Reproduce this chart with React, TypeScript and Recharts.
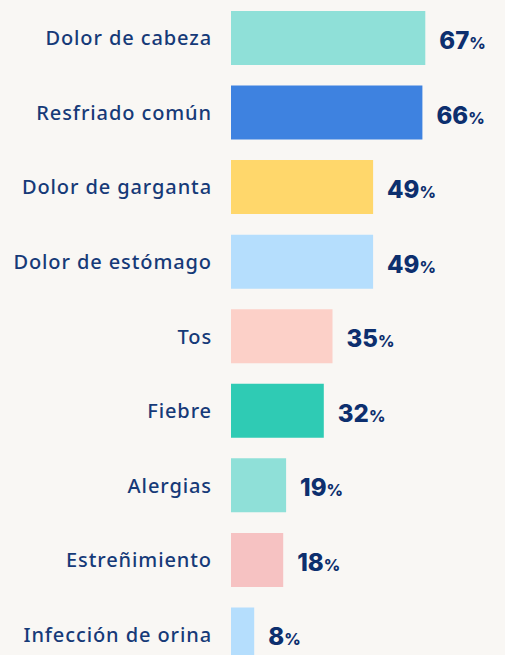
import React from "react";
import { BarChart, Bar, XAxis, YAxis, Cell, LabelList } from "recharts";

const categories = [
  "Dolor de cabeza",
  "Resfriado común",
  "Dolor de garganta",
  "Dolor de estómago",
  "Tos",
  "Fiebre",
  "Alergias",
  "Estreñimiento",
  "Infección de orina",
];

const values = [67, 66, 49, 49, 35, 32, 19, 18, 8];

const barColors = [
  "#8fe0d8",
  "#3e82e0",
  "#ffd76b",
  "#b5defd",
  "#fcd0c8",
  "#2fcbb4",
  "#8fe0d8",
  "#f6c2c2",
  "#b5defd",
];

const data = categories.map((name, i) => ({ name, value: values[i] }));

const NAVY = "#163a78";

const CategoryTick = ({ x, y, payload }: any) => (
  <text
    x={x}
    y={y}
    dy={7}
    textAnchor="end"
    fill={NAVY}
    fontFamily="'Noto Sans', sans-serif"
    fontSize={20}
    fontWeight={500}
    letterSpacing={0.9}
  >
    {payload.value}
  </text>
);

// valor en negrita + "%" más pequeño
const ValueLabel = ({ x, y, width, height, value }: any) => (
  <text
    x={x + width + 14}
    y={y + height / 2 + 11}
    fill="#0d2f6e"
    fontFamily="Inter, sans-serif"
    fontWeight={800}
  >
    <tspan fontSize={24}>{value}</tspan>
    <tspan fontSize={16}>%</tspan>
  </text>
);

export default function App() {
  return (
    <div
      style={{
        position: "fixed",
        top: 0,
        left: 0,
        width: 505,
        height: 655,
        overflow: "hidden",
        background: "#f9f7f4",
      }}
    >
      <BarChart
        layout="vertical"
        width={521}
        height={672}
        data={data}
        margin={{ top: 1, right: 0, bottom: 0, left: 0 }}
      >
        <XAxis type="number" domain={[0, 100]} hide />
        <YAxis
          type="category"
          dataKey="name"
          width={231}
          axisLine={false}
          tickLine={false}
          tickMargin={13}
          tick={<CategoryTick />}
        />
        <Bar dataKey="value" barSize={54} isAnimationActive={false}>
          {data.map((d, i) => (
            <Cell key={d.name} fill={barColors[i]} />
          ))}
          <LabelList dataKey="value" content={<ValueLabel />} />
        </Bar>
      </BarChart>
    </div>
  );
}
